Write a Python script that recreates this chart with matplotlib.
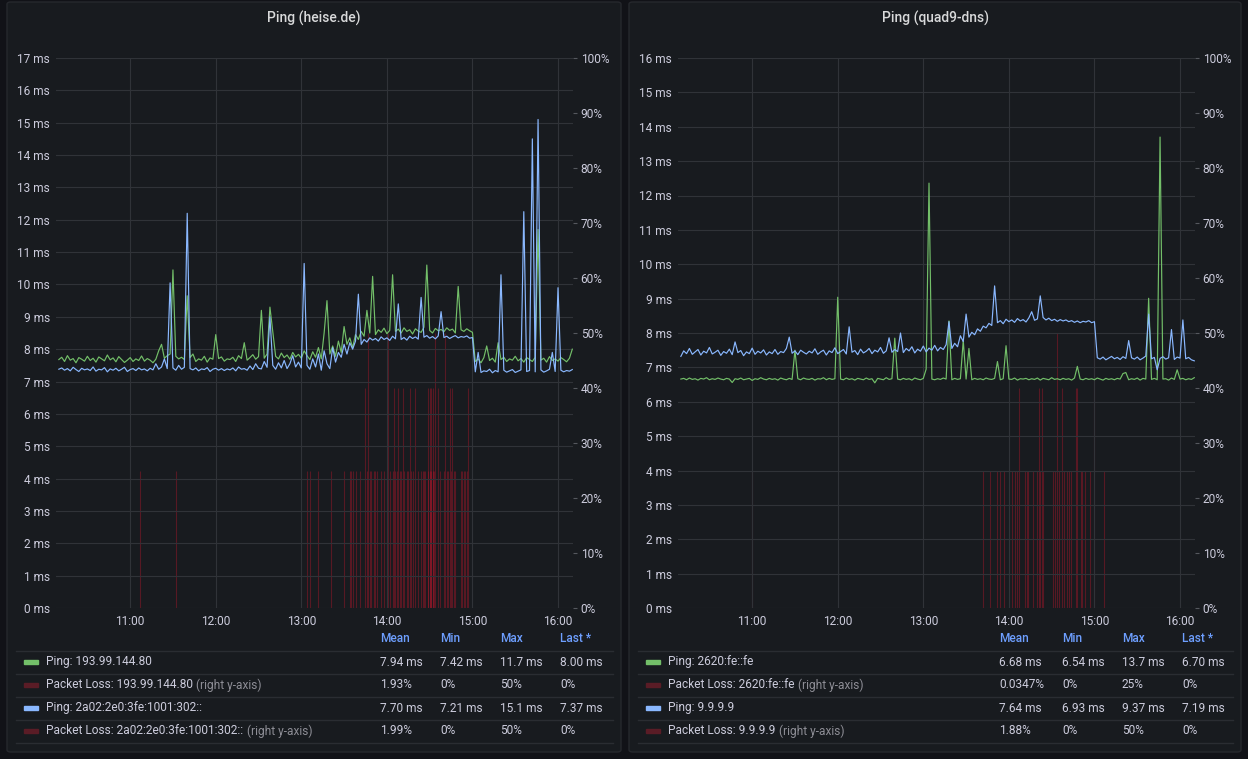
import numpy as np
import matplotlib.pyplot as plt
from matplotlib.patches import FancyBboxPatch, Rectangle
from matplotlib.lines import Line2D

plt.rcParams['font.family'] = ['Roboto', 'DejaVu Sans']

W, H = 1248, 759

# one sample every 2 minutes, 10:10 .. 16:10 (minutes of the day)
times = 610 + 2 * np.arange(181)

hour_ticks = [660, 720, 780, 840, 900, 960]
hour_labels = ['11:00', '12:00', '13:00', '14:00', '15:00', '16:00']

# --- Ping (heise.de) ---
heise_v4 = [
    7.68, 7.75, 7.62, 7.80, 7.66, 7.71, 7.58, 7.74, 7.69, 7.63, 7.78, 7.65, 7.72, 7.60, 7.76,
    7.70, 7.64, 7.82, 7.67, 7.73, 7.61, 7.77, 7.68, 7.59, 7.66, 7.74, 7.62, 7.70, 7.65, 7.79,
    7.63, 7.71, 7.66, 7.58, 7.69, 7.95, 8.15, 7.72, 7.80, 7.85, 10.45, 7.78, 7.70, 7.75, 7.68,
    9.65, 7.74, 7.85, 7.62, 7.70, 7.66, 7.78, 7.60, 7.73, 7.69, 8.45, 7.71, 7.76, 7.63, 7.70,
    7.68, 7.75, 7.62, 7.80, 7.71, 8.20, 7.66, 7.74, 7.83, 7.69, 7.77, 9.20, 7.72, 7.85, 9.30,
    8.55, 7.78, 7.70, 7.88, 7.74, 7.82, 7.69, 7.90, 7.76, 7.84, 7.72, 7.95, 7.80, 7.68, 7.92,
    7.75, 8.05, 7.70, 8.50, 9.50, 7.85, 8.10, 7.78, 8.25, 7.90, 8.70, 8.15, 8.35, 8.05, 8.45,
    8.30, 8.55, 8.40, 9.20, 8.50, 10.25, 8.45, 8.60, 8.52, 8.65, 8.48, 8.58, 10.30, 8.55, 8.62,
    8.50, 8.66, 8.55, 8.60, 8.47, 8.63, 8.56, 8.52, 8.68, 10.60, 8.58, 8.50, 8.64, 8.57, 8.61,
    8.54, 8.66, 8.58, 8.62, 8.50, 9.94, 8.60, 8.55, 8.63, 8.57, 8.52, 7.62, 7.70, 7.58, 7.74,
    8.10, 7.65, 7.72, 7.60, 8.20, 7.68, 7.75, 7.62, 7.70, 7.66, 7.78, 7.64, 7.71, 7.60, 7.74,
    7.68, 7.62, 7.75, 11.70, 7.66, 7.72, 7.60, 7.77, 7.65, 7.70, 7.63, 7.74, 7.68, 7.61, 7.72,
    8.00]
heise_v6 = [
    7.38, 7.42, 7.35, 7.40, 7.33, 7.44, 7.37, 7.31, 7.41, 7.36, 7.39, 7.34, 7.45, 7.32, 7.38,
    7.36, 7.43, 7.30, 7.39, 7.35, 7.41, 7.33, 7.38, 7.44, 7.31, 7.37, 7.40, 7.34, 7.42, 7.36,
    7.39, 7.33, 7.41, 7.36, 7.55, 7.38, 7.45, 7.70, 7.40, 10.05, 7.42, 7.35, 7.50, 7.38, 7.44,
    12.20, 7.40, 7.36, 7.42, 7.33, 7.39, 7.37, 7.43, 7.31, 7.38, 7.41, 7.35, 7.40, 7.34, 7.39,
    7.36, 7.42, 7.33, 7.45, 7.38, 7.40, 7.35, 7.48, 7.37, 7.55, 7.41, 7.39, 7.62, 7.44, 9.00,
    7.50, 7.38, 7.58, 7.42, 7.65, 7.40, 7.55, 7.80, 7.45, 7.60, 7.42, 10.65, 7.50, 7.38, 7.70,
    7.45, 7.85, 7.35, 7.95, 7.55, 7.40, 8.05, 7.60, 7.90, 7.75, 8.15, 7.85, 8.20, 8.00, 8.25,
    9.70, 8.15, 8.30, 8.22, 8.35, 8.28, 8.33, 8.25, 8.38, 8.30, 8.35, 8.27, 8.40, 8.32, 9.40,
    8.30, 8.36, 8.28, 8.40, 8.33, 8.38, 8.31, 9.60, 8.37, 8.42, 8.34, 8.39, 8.32, 8.41, 9.16,
    8.36, 8.40, 8.33, 8.38, 8.42, 8.35, 8.39, 8.37, 8.41, 8.34, 8.36, 7.30, 7.90, 7.28, 7.33,
    7.31, 7.38, 7.27, 7.34, 7.30, 10.30, 7.35, 7.29, 7.33, 7.37, 7.28, 7.32, 7.36, 12.25, 7.31,
    7.34, 14.50, 7.30, 15.10, 7.36, 7.29, 7.33, 7.38, 7.90, 7.31, 9.90, 7.35, 7.30, 7.34, 7.32,
    7.37]
heise_loss_v4_t = [667, 784, 792, 810, 815, 818, 825, 827, 829, 832, 836, 840, 842, 845, 847,
                   849, 851, 854, 856, 858, 862, 865, 867, 869, 870, 871, 872, 874, 877, 881,
                   883, 885, 887, 892, 894, 896]
heise_loss_v4 = [25, 25, 25, 25, 25, 25, 40, 50, 25, 25, 25, 25, 25, 40, 25,
                 25, 40, 25, 40, 25, 25, 25, 25, 40, 40, 40, 40, 50, 25, 50,
                 25, 25, 25, 25, 25, 25]
heise_loss_v6_t = [692, 786, 801, 814, 816, 821, 826, 828, 831, 833, 838, 841, 844, 846, 848,
                   850, 852, 855, 857, 860, 864, 866, 869, 870, 871, 872, 873, 876, 880, 882,
                   884, 886, 888, 893, 895, 897]
heise_loss_v6 = [25, 25, 25, 25, 25, 25, 25, 25, 25, 25, 25, 50, 25, 25, 40,
                 25, 25, 25, 25, 40, 25, 25, 25, 25, 25, 25, 25, 40, 25, 25,
                 40, 40, 25, 25, 25, 40]

# --- Ping (quad9-dns) ---
quad9_v6 = [
    6.66, 6.68, 6.64, 6.69, 6.65, 6.67, 6.63, 6.68, 6.66, 6.70, 6.64, 6.67, 6.65, 6.69, 6.66,
    6.64, 6.68, 6.66, 6.56, 6.67, 6.65, 6.69, 6.64, 6.66, 6.68, 6.62, 6.67, 6.65, 6.70, 6.66,
    6.64, 6.68, 6.65, 6.67, 6.63, 6.69, 6.66, 6.64, 6.68, 6.65, 7.50, 6.67, 6.64, 6.69, 6.66,
    6.65, 6.68, 6.63, 6.67, 6.66, 6.70, 6.64, 6.68, 6.65, 6.67, 9.04, 6.66, 6.64, 6.69, 6.65,
    6.67, 6.63, 6.68, 6.66, 6.64, 6.69, 6.65, 6.67, 6.55, 6.68, 6.66, 6.64, 6.70, 6.65, 6.67,
    7.85, 6.66, 6.64, 6.68, 6.65, 6.67, 6.63, 6.69, 6.66, 6.64, 6.68, 6.95, 12.36, 6.66, 6.64,
    6.67, 6.65, 6.69, 6.66, 8.35, 6.64, 6.68, 6.65, 6.67, 7.78, 6.66, 7.55, 6.64, 6.68, 6.65,
    6.67, 6.64, 6.69, 6.66, 6.65, 6.68, 7.17, 6.64, 6.67, 7.63, 6.66, 6.65, 6.69, 6.63, 6.67,
    6.66, 6.68, 6.64, 6.67, 6.65, 6.69, 6.63, 6.68, 6.66, 6.64, 6.70, 6.65, 6.67, 6.64, 6.68,
    6.65, 6.67, 6.63, 6.69, 7.03, 6.66, 6.64, 6.68, 6.65, 6.67, 6.64, 6.69, 6.66, 6.63, 6.68,
    6.65, 6.67, 6.64, 6.68, 6.66, 6.82, 6.85, 6.64, 6.67, 6.65, 6.69, 6.63, 6.68, 6.66, 9.01,
    6.65, 6.68, 6.64, 13.70, 6.66, 6.67, 6.63, 6.69, 6.65, 6.93, 6.66, 6.68, 6.64, 6.67, 6.65,
    6.70]
quad9_v4 = [
    7.32, 7.48, 7.40, 7.55, 7.38, 7.45, 7.52, 7.36, 7.47, 7.42, 7.58, 7.39, 7.44, 7.50, 7.35,
    7.46, 7.41, 7.53, 7.37, 7.74, 7.43, 7.49, 7.34, 7.45, 7.40, 7.56, 7.38, 7.47, 7.42, 7.51,
    7.36, 7.45, 7.40, 7.52, 7.38, 7.46, 7.43, 7.55, 7.88, 7.41, 7.48, 7.37, 7.50, 7.44, 7.39,
    7.47, 7.42, 7.54, 7.38, 7.45, 7.50, 7.36, 7.48, 7.43, 7.57, 7.40, 7.46, 7.52, 7.39, 8.18,
    7.44, 7.49, 7.37, 7.53, 7.42, 7.47, 7.55, 7.40, 7.50, 7.45, 7.58, 7.41, 7.48, 7.86, 7.44,
    7.52, 7.46, 8.00, 7.43, 7.55, 7.48, 7.60, 7.42, 7.53, 7.47, 7.62, 7.45, 7.56, 7.50, 7.64,
    7.48, 7.58, 7.52, 7.66, 8.33, 7.55, 7.70, 7.60, 7.92, 7.75, 8.55, 7.88, 8.02, 7.95, 8.12,
    8.05, 8.20, 8.15, 8.28, 8.22, 9.37, 8.30, 8.36, 8.27, 8.40, 8.33, 8.38, 8.31, 8.42, 8.35,
    8.39, 8.32, 8.44, 8.62, 8.37, 8.41, 9.08, 8.45, 8.38, 8.43, 8.36, 8.40, 8.34, 8.39, 8.35,
    8.38, 8.33, 8.36, 8.31, 8.35, 8.30, 8.34, 8.32, 8.36, 8.30, 8.33, 7.28, 7.24, 7.30, 7.22,
    7.27, 7.32, 7.25, 7.29, 7.23, 7.31, 7.26, 7.78, 7.28, 7.24, 7.30, 7.22, 7.27, 7.33, 8.55,
    7.25, 7.29, 6.93, 7.26, 7.31, 7.24, 7.28, 8.10, 7.23, 7.30, 7.27, 8.38, 7.25, 7.29, 7.22,
    7.19]
quad9_loss_v6_t = [660]
quad9_loss_v6 = [25]
quad9_loss_v4_t = [822, 827, 832, 833.5, 836.5, 842, 844, 846, 847, 851, 852.5, 853.5, 857, 860,
                   861, 862, 863, 864, 871, 872.5, 874, 875, 877, 878.5, 881, 882.5, 883.5,
                   887, 888, 890.5, 891.5, 893.5, 897, 900, 907]
quad9_loss_v4 = [25, 25, 25, 25, 25, 25, 25, 25, 40, 25, 25, 25, 25, 25,
                 40, 25, 40, 25, 25, 25, 50, 25, 40, 25, 25, 25, 25,
                 40, 40, 25, 25, 25, 25, 50, 25]

# legend table texts
heise_legend = [
    ('Ping: 193.99.144.80', '', '#73bf69', ['7.94 ms', '7.42 ms', '11.7 ms', '8.00 ms']),
    ('Packet Loss: 193.99.144.80', '(right y-axis)', '#5a1c26', ['1.93%', '0%', '50%', '0%']),
    ('Ping: 2a02:2e0:3fe:1001:302::', '', '#8ab8ff', ['7.70 ms', '7.21 ms', '15.1 ms', '7.37 ms']),
    ('Packet Loss: 2a02:2e0:3fe:1001:302::', '(right y-axis)', '#5a1c26', ['1.99%', '0%', '50%', '0%']),
]
quad9_legend = [
    ('Ping: 2620:fe::fe', '', '#73bf69', ['6.68 ms', '6.54 ms', '13.7 ms', '6.70 ms']),
    ('Packet Loss: 2620:fe::fe', '(right y-axis)', '#5a1c26', ['0.0347%', '0%', '25%', '0%']),
    ('Ping: 9.9.9.9', '', '#8ab8ff', ['7.64 ms', '6.93 ms', '9.37 ms', '7.19 ms']),
    ('Packet Loss: 9.9.9.9', '(right y-axis)', '#5a1c26', ['1.88%', '0%', '50%', '0%']),
]
legend_header = ['Mean', 'Min', 'Max', 'Last *']

TXT = '#ccccdc'
FS = 8.6


def fx(px):
    return px / W


def fy(py):
    return 1 - py / H


def draw_panel(fig, x0, x1, title, ax_x0, ax_x1, ymax, green, blue, loss_a, loss_b,
               legend_rows, swatch_x, name_x, col_xs):
    card = FancyBboxPatch((fx(x0), fy(752)), (x1 - x0) / W, 750 / H,
                          boxstyle='round,pad=0,rounding_size=0.003', transform=fig.transFigure,
                          facecolor='#181b1f', edgecolor='#26282d', lw=1, zorder=-5)
    fig.patches.append(card)
    fig.text(fx((x0 + x1) / 2), fy(18), title, ha='center', va='center', fontsize=10,
             color='#d8d9da', fontweight='medium')

    ax = fig.add_axes([fx(ax_x0), fy(608), (ax_x1 - ax_x0) / W, 550 / H])
    ax2 = ax.twinx()
    ax.set_zorder(2)
    ax2.set_zorder(1)
    ax.patch.set_visible(False)

    # packet loss bars on the right axis
    for lt, lv in (loss_a, loss_b):
        ax2.vlines(lt, 0, lv, colors='#b8172b', alpha=0.4, lw=0.8)

    ax.plot(times, green, color='#73bf69', lw=0.85)
    ax.plot(times, blue, color='#8ab8ff', lw=0.85)

    ax.set_xlim(608, 970.5)
    ax.set_ylim(0, ymax)
    ax.set_xticks(hour_ticks)
    ax.set_xticklabels(hour_labels)
    ax.set_yticks(range(ymax + 1))
    ax.set_yticklabels([f'{v} ms' for v in range(ymax + 1)])
    ax.tick_params(axis='y', length=0, pad=4.3, labelsize=FS, labelcolor=TXT)
    ax.tick_params(axis='x', length=0, pad=5, labelsize=FS, labelcolor=TXT)
    ax.grid(True, color='#303338', lw=0.8)
    ax.set_axisbelow(True)

    ax2.set_ylim(0, 100)
    ax2.set_yticks(range(0, 101, 10))
    ax2.set_yticklabels([f'{v}%' for v in range(0, 101, 10)])
    ax2.tick_params(axis='y', length=3, width=0.8, color='#55585e', pad=2.5, labelsize=FS,
                    labelcolor=TXT)
    for a in (ax, ax2):
        for s in a.spines.values():
            s.set_visible(False)

    # legend table
    for lab, cx in zip(legend_header, col_xs):
        fig.text(fx(cx), fy(639), lab, color='#6e9fff', fontsize=FS, va='center',
                 fontweight='medium')
    for yy in [651, 674, 697, 720, 743]:
        fig.add_artist(Line2D([fx(x0 + 9), fx(x1 - 8)], [fy(yy), fy(yy)], color='#2a2d32', lw=1))
    renderer = fig.canvas.get_renderer()
    for (name, suffix, col, vals), yy in zip(legend_rows, [662, 685, 708, 731]):
        fig.add_artist(Rectangle((fx(swatch_x), fy(yy + 2)), 14 / W, 4 / H, color=col,
                                 transform=fig.transFigure))
        t = fig.text(fx(name_x), fy(yy), name, color=TXT, fontsize=FS, va='center')
        if suffix:
            bb = t.get_window_extent(renderer=renderer)
            fig.text(fx(bb.x1 + 3.5), fy(yy), suffix, color='#8e8e96', fontsize=FS, va='center')
        for v, cx in zip(vals, col_xs):
            fig.text(fx(cx), fy(yy), v, color=TXT, fontsize=FS, va='center')


fig = plt.figure(figsize=(W / 100, H / 100), dpi=100, facecolor='#111217')

draw_panel(fig, 7, 621, 'Ping (heise.de)', 56, 573, 17, heise_v4, heise_v6,
           (heise_loss_v4_t, heise_loss_v4), (heise_loss_v6_t, heise_loss_v6),
           heise_legend, 24, 46, [380, 440, 500, 560])
draw_panel(fig, 629, 1241, 'Ping (quad9-dns)', 678, 1195, 16, quad9_v6, quad9_v4,
           (quad9_loss_v6_t, quad9_loss_v6), (quad9_loss_v4_t, quad9_loss_v4),
           quad9_legend, 646, 668, [999, 1062, 1122, 1182])

fig.savefig('out.png', dpi=100, facecolor=fig.get_facecolor())
